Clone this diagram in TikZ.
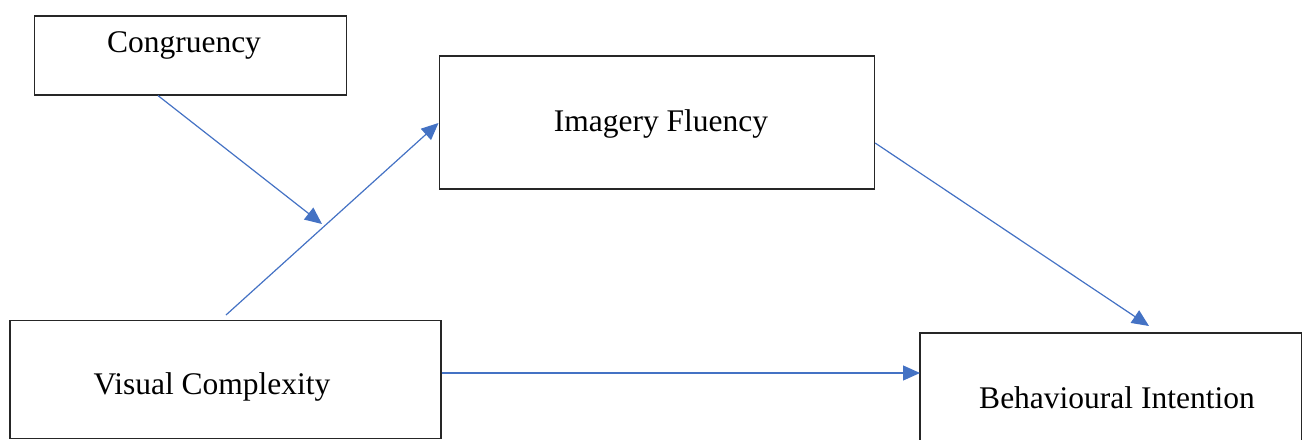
\documentclass[tikz,border=0pt]{standalone}
\usepackage{fontspec}
\setmainfont{Liberation Serif}
\usetikzlibrary{arrows.meta,calc}
\begin{document}
\begin{tikzpicture}[x=1pt,y=-1pt,
  box/.style={draw=black!85,line width=1.6pt,inner sep=0pt,anchor=north west},
  lbl/.style={font=\fontsize{31.5}{36}\selectfont,anchor=base,inner sep=0pt},
  conn/.style={draw={rgb,255:red,68;green,114;blue,196},line width=1.2pt,
    -{Triangle[length=17pt,width=15pt]},shorten >=0pt}]
\useasboundingbox (0,0) rectangle (1303,439);
\node[box,minimum width=312pt,minimum height=79pt] (cong) at (33.5,15) {};
\node[box,minimum width=435pt,minimum height=133pt] (imf) at (438.5,55) {};
\node[box,minimum width=431pt,minimum height=118pt] (vc) at (9,319.5) {};
\draw[black!85,line width=1.6pt] (1301.5,445) -- (1301.5,333) -- (920,333) -- (920,445);
\coordinate (bi) at (920,333);
\node[lbl] (tcong) at (184,52) {Congruency};
\node[lbl] (timf) at (661,131) {Imagery Fluency};
\node[lbl] (tvc) at (212,394) {Visual Complexity};
\node[lbl] (tbi) at (1117,408) {Behavioural Intention};
\coordinate (mid) at (322,224);
\coordinate (vctop) at (226,315);
\coordinate (bitop) at (1149,326);
\draw[conn] ([xshift=124.5pt]cong.south west) -- (mid);
\draw[conn] (vctop) -- ([yshift=-68pt]imf.north west);
\draw[conn] ([yshift=-88pt]imf.north east) -- (bitop);
\draw[conn] ([yshift=-53.5pt]vc.north east) -- ([yshift=-40pt]bi);
\end{tikzpicture}
\end{document}
